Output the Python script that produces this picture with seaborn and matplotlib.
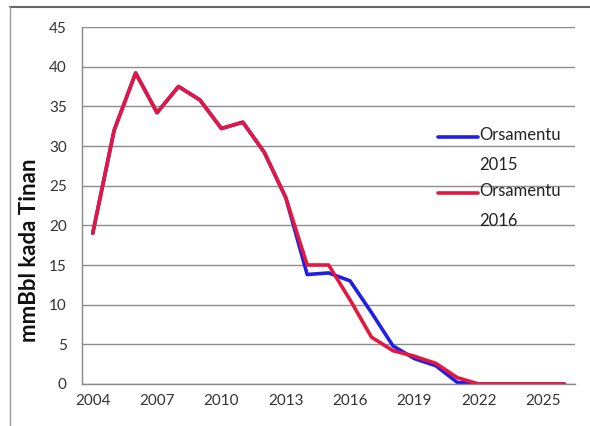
import numpy as np
import pandas as pd
import matplotlib
matplotlib.use("Agg")
import matplotlib.pyplot as plt
import seaborn as sns
from matplotlib.lines import Line2D

# Data
tinan = list(range(2004, 2027))
orsamentu_2015 = [19, 32, 39.2, 34.2, 37.5, 35.8, 32.2, 33, 29.2, 23.5,
                  13.8, 14.0, 13.0, 9.0, 4.8, 3.2, 2.3, 0.2, 0, 0, 0, 0, 0]
orsamentu_2016 = [19, 32, 39.2, 34.2, 37.5, 35.8, 32.2, 33, 29.2, 23.5,
                  15.0, 15.0, 10.6, 5.9, 4.2, 3.5, 2.6, 0.8, 0, 0, 0, 0, 0]
serie_naran = ["Orsamentu 2015", "Orsamentu 2016"]
kor = ["#1f1fe8", "#e4173f"]

df = pd.DataFrame({
    "tinan": tinan * 2,
    "valor": orsamentu_2015 + orsamentu_2016,
    "serie": [serie_naran[0]] * len(tinan) + [serie_naran[1]] * len(tinan),
})

sns.set_style("white")
plt.rcParams["font.family"] = ["Lato", "DejaVu Sans"]

fig = plt.figure(figsize=(5.9, 4.26), dpi=100)
ax = fig.add_axes([0.139, 0.0986, 0.836, 0.838])

sns.lineplot(data=df, x="tinan", y="valor", hue="serie", palette=kor,
             linewidth=2.6, ax=ax, legend=False)

# Excel-like axes
ax.set_xlim(2003.5, 2026.5)
ax.set_ylim(0, 45)
ax.set_yticks(np.arange(0, 46, 5))
ax.set_xticks(list(range(2004, 2027, 3)))
ax.set_xticks(np.arange(2003.5, 2027, 1), minor=True)
ax.tick_params(axis="x", which="major", length=0, labelsize=11, pad=7, colors="#333333")
ax.tick_params(axis="x", which="minor", length=4, color="#888888", direction="out")
ax.tick_params(axis="y", length=4, color="#888888", direction="out", labelsize=11,
               colors="#333333", pad=7)
ax.yaxis.grid(True, color="#8c8c8c", linewidth=1)
ax.xaxis.grid(False)
for s in ["top", "right"]:
    ax.spines[s].set_visible(False)
for s in ["left", "bottom"]:
    ax.spines[s].set_color("#888888")
    ax.spines[s].set_linewidth(1)

ax.set_xlabel("")
ax.set_ylabel("mmBbl kada Tinan", fontsize=16, fontweight="bold", color="#111111")
ax.yaxis.set_label_coords(-0.085, 0.375)

# legend drawn like the Excel one: handle beside the first text line
leg_y = [0.692, 0.535]
for naran, c, y in zip(serie_naran, kor, leg_y):
    ax.plot([0.722, 0.803], [y, y], color=c, linewidth=2.6,
            transform=ax.transAxes, clip_on=False)
    ax.text(0.805, y + 0.028, naran.replace(" ", "\n"), transform=ax.transAxes,
            fontsize=12, color="#222222", va="top", linespacing=2.1)

# outer frame lines of the original image
fig.add_artist(Line2D([0.017, 1.0], [0.984, 0.984], color="#666666", linewidth=1.5))
fig.add_artist(Line2D([0.017, 0.017], [0.0, 0.984], color="#999999", linewidth=1))

fig.savefig("out.png", dpi=100)
